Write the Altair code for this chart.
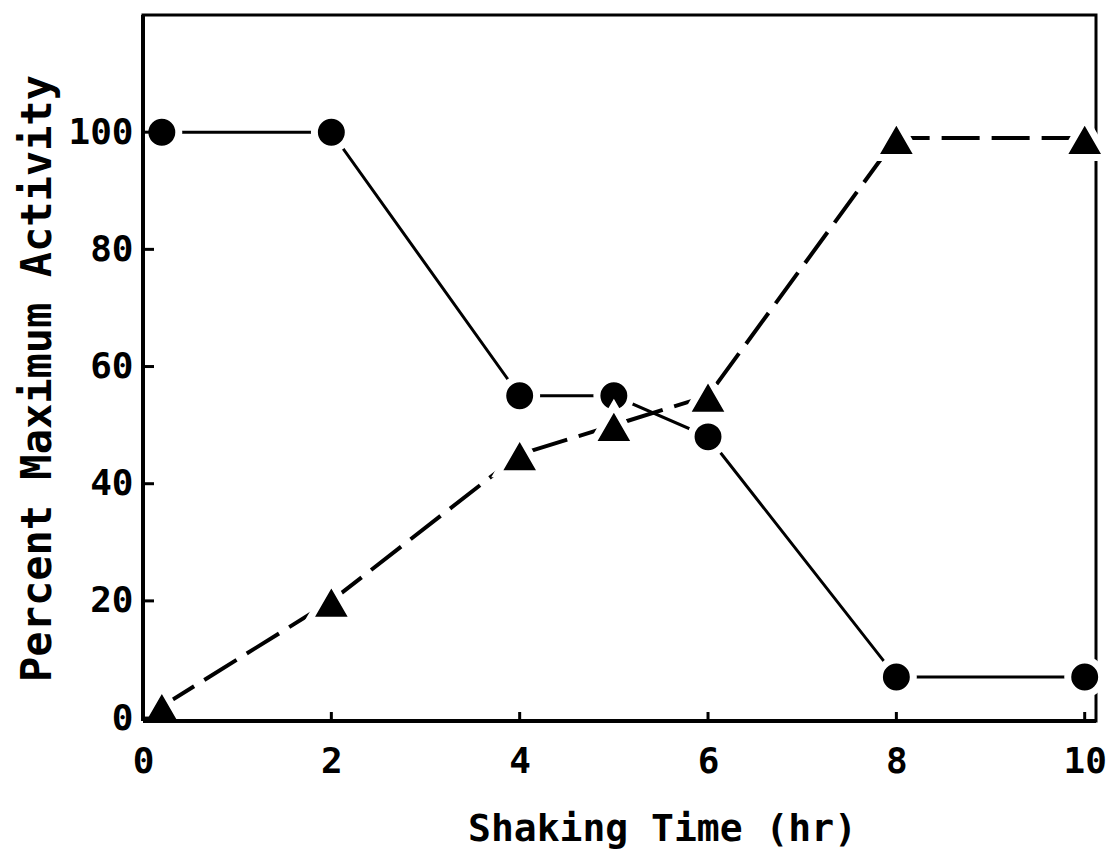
import altair as alt
import pandas as pd

# Data
time_circle = [0.2, 2, 4, 5, 6, 8, 10]
act_circle = [100, 100, 55, 55, 48, 7, 7]
time_tri = [0.2, 2, 4, 5, 6, 8, 10]
act_tri = [2, 20, 45, 50, 55, 99, 99]
x_ticks = [0, 2, 4, 6, 8, 10]
y_ticks = [0, 20, 40, 60, 80, 100]

df_c = pd.DataFrame({"t": time_circle, "a": act_circle})
df_t = pd.DataFrame({"t": time_tri, "a": act_tri})
df_xt = pd.DataFrame({"t": x_ticks})
df_yt = pd.DataFrame({"a": y_ticks})

FONT = "DejaVu Sans Mono"
W, H = 953, 706

xscale = alt.Scale(domain=[0, 10.12], nice=False, zero=False)
yscale = alt.Scale(domain=[-0.5, 120], nice=False, zero=False)

xaxis = alt.Axis(
    values=x_ticks, ticks=False, domain=False, grid=False,
    labelFont=FONT, labelFontSize=36, labelFontWeight="bold", labelColor="black",
    labelPadding=23, labelFlush=False,
    title="Shaking Time (hr)", titleFont=FONT, titleFontSize=38, titleFontWeight="bold",
    titleColor="black", titleX=519, titleY=108, titleBaseline="middle",
)
yaxis = alt.Axis(
    values=y_ticks, ticks=False, domain=False, grid=False,
    labelFont=FONT, labelFontSize=36, labelFontWeight="bold", labelColor="black",
    labelPadding=10, labelFlush=False,
    title="Percent Maximum Activity", titleFont=FONT, titleFontSize=42, titleFontWeight="bold",
    titleColor="black", titleX=-106, titleY=363, titleBaseline="middle", titleAngle=-90,
)

x_enc = alt.X("t:Q", scale=xscale, axis=xaxis)
y_enc = alt.Y("a:Q", scale=yscale, axis=yaxis)

line_c = alt.Chart(df_c).mark_line(color="black", strokeWidth=3).encode(
    x=x_enc, y=y_enc, order="t:Q"
)
line_t = alt.Chart(df_t).mark_line(color="black", strokeWidth=4, strokeDash=[38, 12]).encode(
    x=x_enc, y=y_enc, order="t:Q"
)
pts_c = alt.Chart(df_c).mark_point(
    shape="circle", filled=True, fill="black", stroke="white", strokeWidth=7,
    size=1150, opacity=1, fillOpacity=1, strokeOpacity=1
).encode(x=x_enc, y=y_enc)
pts_t = alt.Chart(df_t).mark_point(
    shape="triangle-up", filled=True, fill="black", stroke="white", strokeWidth=7,
    size=2000, opacity=1, fillOpacity=1, strokeOpacity=1
).encode(x=x_enc, y=y_enc)

xt = alt.Chart(df_xt).mark_rule(color="black", strokeWidth=3).encode(
    x=alt.X("t:Q", scale=xscale, axis=xaxis), y=alt.value(H), y2=alt.value(H - 9)
)
yt = alt.Chart(df_yt).mark_rule(color="black", strokeWidth=3).encode(
    y=alt.Y("a:Q", scale=yscale, axis=yaxis), x=alt.value(0), x2=alt.value(11)
)
# redraw left and bottom frame edges on top of the markers
left_edge = alt.Chart(df_yt).mark_rule(color="black", strokeWidth=3).encode(
    x=alt.value(0), y=alt.value(0), y2=alt.value(H)
)
bottom_edge = alt.Chart(df_xt).mark_rule(color="black", strokeWidth=3).encode(
    y=alt.value(H), x=alt.value(0), x2=alt.value(W)
)

chart = alt.layer(line_c, line_t, pts_c, pts_t, xt, yt, left_edge, bottom_edge).properties(
    width=W, height=H,
    autosize=alt.AutoSizeParams(type="none"),
    padding={"left": 135, "top": 7, "right": 10, "bottom": 130},
    background="white",
).configure_view(stroke="black", strokeWidth=3, fill="white")

chart.save("out.html", embed_options={"renderer": "svg", "actions": False})
